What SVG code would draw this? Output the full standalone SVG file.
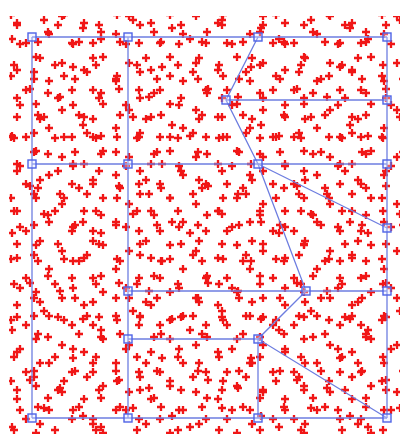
<svg xmlns="http://www.w3.org/2000/svg" xmlns:xlink="http://www.w3.org/1999/xlink" width="401" height="435" viewBox="0 0 401 435">
<style>
.x{fill:none;stroke:#f01414;stroke-width:2.3}
.e{stroke:#6d7de0;stroke-width:1.3;fill:none}
.n{fill:#dfe4ff;fill-opacity:0.35;stroke:#4f63e6;stroke-width:1.4}
</style>
<defs>
<path id="c" d="M-4 0H4M0-4V4" class="x"/>
<filter id="soft" x="-5%" y="-5%" width="110%" height="110%"><feGaussianBlur stdDeviation="0.75"/></filter>
<pattern id="pA" patternUnits="userSpaceOnUse" width="53" height="61" x="3" y="5">
<use xlink:href="#c" x="8" y="10"/><use xlink:href="#c" x="31" y="6"/><use xlink:href="#c" x="45" y="27"/><use xlink:href="#c" x="17" y="39"/><use xlink:href="#c" x="37" y="53"/>
</pattern>
<pattern id="pB" patternUnits="userSpaceOnUse" width="67" height="47" x="11" y="2">
<use xlink:href="#c" x="6" y="21"/><use xlink:href="#c" x="25" y="8"/><use xlink:href="#c" x="51" y="14"/><use xlink:href="#c" x="38" y="32"/><use xlink:href="#c" x="61" y="41"/><use xlink:href="#c" x="15" y="41"/>
</pattern>
<pattern id="pC" patternUnits="userSpaceOnUse" width="41" height="73" x="7" y="13">
<use xlink:href="#c" x="10" y="12"/><use xlink:href="#c" x="31" y="29"/><use xlink:href="#c" x="7" y="52"/><use xlink:href="#c" x="27" y="66"/>
</pattern>
<pattern id="pD" patternUnits="userSpaceOnUse" width="89" height="97" x="0" y="9">
<use xlink:href="#c" x="12" y="30"/><use xlink:href="#c" x="44" y="11"/><use xlink:href="#c" x="73" y="58"/><use xlink:href="#c" x="30" y="80"/><use xlink:href="#c" x="60" y="88"/><use xlink:href="#c" x="83" y="19"/>
</pattern>
</defs>
<rect width="401" height="435" fill="#ffffff"/>
<g id="points" filter="url(#soft)">
<rect x="9" y="16" width="391" height="418" fill="url(#pA)"/>
<rect x="9" y="16" width="391" height="418" fill="url(#pB)"/>
<rect x="9" y="16" width="391" height="418" fill="url(#pC)"/>
<rect x="9" y="16" width="391" height="418" fill="url(#pD)"/>
</g>
<g id="connectors" class="e">
<path d="M32 37H387"/>
<path d="M226 100H387"/>
<path d="M32 164H387"/>
<path d="M128 291H387"/>
<path d="M128 339H258"/>
<path d="M32 418H387"/>
<path d="M32 37V418"/>
<path d="M128 37V418"/>
<path d="M387 37V418"/>
<path d="M258 339V418"/>
<path d="M258 37L226 100L258 164L306 291L258 339L387 418"/>
<path d="M258 164L387 228"/>
</g>
<g id="n1"><rect class="n" x="28" y="33" width="8" height="8"/></g>
<g id="n2"><rect class="n" x="124" y="33" width="8" height="8"/></g>
<g id="n3"><rect class="n" x="254" y="33" width="8" height="8"/></g>
<g id="n4"><rect class="n" x="383" y="33" width="8" height="8"/></g>
<g id="n5"><rect class="n" x="222" y="96" width="8" height="8"/></g>
<g id="n6"><rect class="n" x="383" y="96" width="8" height="8"/></g>
<g id="n7"><rect class="n" x="28" y="160" width="8" height="8"/></g>
<g id="n8"><rect class="n" x="124" y="160" width="8" height="8"/></g>
<g id="n9"><rect class="n" x="254" y="160" width="8" height="8"/></g>
<g id="n10"><rect class="n" x="383" y="160" width="8" height="8"/></g>
<g id="n11"><rect class="n" x="383" y="224" width="8" height="8"/></g>
<g id="n12"><rect class="n" x="124" y="287" width="8" height="8"/></g>
<g id="n13"><rect class="n" x="302" y="287" width="8" height="8"/></g>
<g id="n14"><rect class="n" x="383" y="287" width="8" height="8"/></g>
<g id="n15"><rect class="n" x="124" y="335" width="8" height="8"/></g>
<g id="n16"><rect class="n" x="254" y="335" width="8" height="8"/></g>
<g id="n17"><rect class="n" x="28" y="414" width="8" height="8"/></g>
<g id="n18"><rect class="n" x="124" y="414" width="8" height="8"/></g>
<g id="n19"><rect class="n" x="254" y="414" width="8" height="8"/></g>
<g id="n20"><rect class="n" x="383" y="414" width="8" height="8"/></g>
</svg>
